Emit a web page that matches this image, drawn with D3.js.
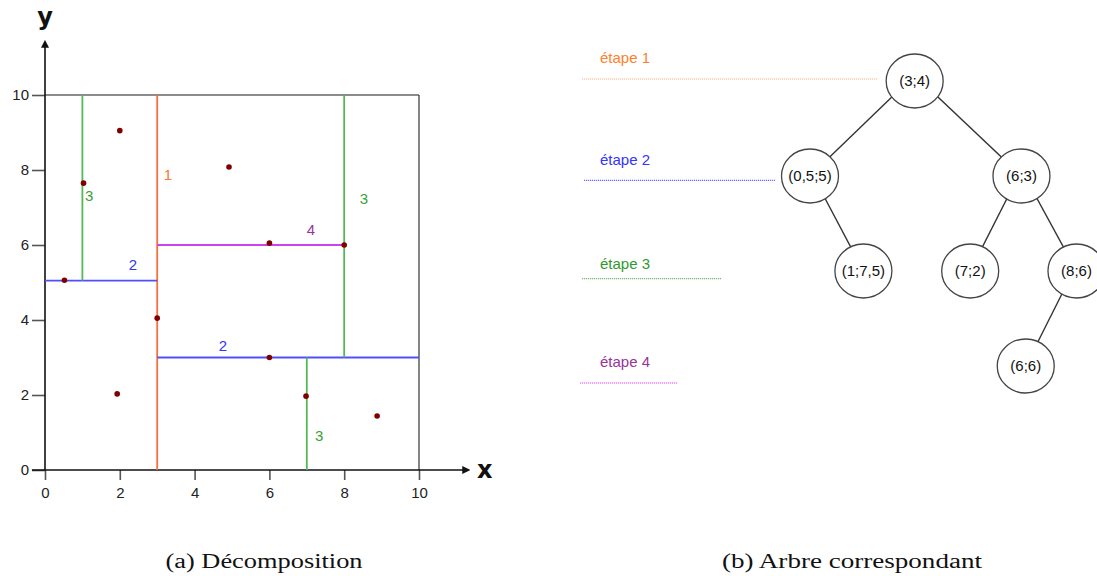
<!DOCTYPE html>
<html>
<head>
<meta charset="utf-8">
<script src="https://cdn.jsdelivr.net/npm/d3@7"></script>
<style>
  body { margin: 0; background: #fff; }
  svg { display: block; }
</style>
</head>
<body>
<svg id="chart" width="1097" height="576"></svg>
<script>
// ---- data ---------------------------------------------------------------
// points of the set being partitioned
const pointsX = [2, 4.92, 1.03, 0.52, 3, 1.93, 6, 8, 6, 6.98, 8.88];
const pointsY = [9.05, 8.08, 7.65, 5.06, 4.05, 2.03, 6.05, 6, 3, 1.97, 1.44];

// splitting segments: stage, orientation, fixed coordinate, span
const splitStage = [1, 2, 2, 3, 3, 3, 4];
const splitDir   = ["v", "h", "h", "v", "v", "v", "h"];
const splitAt    = [3, 5.05, 3, 1, 8, 7, 6];
const splitFrom  = [0, 0, 3, 5.05, 3, 0, 3];
const splitTo    = [10, 3, 10, 10, 10, 3, 8];

// stage numbers written next to the segments (data coordinates)
const tagStage = [1, 2, 2, 3, 3, 3, 4];
const tagX     = [3.29, 2.35, 4.76, 1.18, 8.53, 7.33, 7.11];
const tagY     = [7.87, 5.47, 3.33, 7.33, 7.25, 0.91, 6.40];

const xTicks = [0, 2, 4, 6, 8, 10];
const yTicks = [0, 2, 4, 6, 8, 10];

// tree: label, depth, column, parent index
const nodeLabel  = ["(3;4)", "(0,5;5)", "(6;3)", "(1;7,5)", "(7;2)", "(8;6)", "(6;6)"];
const nodeDepth  = [0, 1, 1, 2, 2, 2, 3];
const nodeCol    = [1.96, 0, 3.96, 1, 3, 4.99, 4.04];
const nodeParent = [null, 0, 0, 1, 2, 2, 5];

const stageNames = ["étape 1", "étape 2", "étape 3", "étape 4"];

const captions = ["(a) Décomposition", "(b) Arbre correspondant"];

// ---- styles ---------------------------------------------------------------
const lineColor  = ["#f4703f", "#4f4fff", "#55b855", "#cc44ee"];
const tagColor   = ["#f47a36", "#3535f0", "#3a9f3a", "#993399"];
const guideColor = ["#f8b48a", "#6a6aff", "#7ab87a", "#dd44ee"];
const textColor  = ["#ff7f2a", "#3333ff", "#2e9a2e", "#993399"];

const svg = d3.select("#chart");

// ---- left panel: decomposition of the plane ---------------------------------
const x = d3.scaleLinear().domain([0, 10]).range([45, 419]);
const y = d3.scaleLinear().domain([0, 10]).range([470, 95]);

const left = svg.append("g");

// frame at x = 10 and y = 10
left.append("line")
  .attr("x1", x(0)).attr("x2", x(10)).attr("y1", y(10)).attr("y2", y(10))
  .attr("stroke", "#666").attr("stroke-width", 1.6);
left.append("line")
  .attr("x1", x(10)).attr("x2", x(10)).attr("y1", y(10)).attr("y2", y(0))
  .attr("stroke", "#333").attr("stroke-width", 1.2);

// axes
const xAxis = d3.axisBottom(x).tickValues(xTicks).tickSize(10).tickPadding(7).tickFormat(d3.format("d"));
const yAxis = d3.axisLeft(y).tickValues(yTicks).tickSize(13).tickPadding(3).tickFormat(d3.format("d"));

const gx = left.append("g").attr("transform", `translate(0,${y(0)})`).call(xAxis);
const gy = left.append("g").attr("transform", `translate(${x(0)},0)`).call(yAxis);
[gx, gy].forEach(g => {
  g.select(".domain").remove();
  g.selectAll(".tick line").attr("stroke", "#555").attr("stroke-width", 1.6);
  g.selectAll(".tick text").attr("font-family", "Liberation Sans, Arial, sans-serif")
    .attr("font-size", 15).attr("fill", "#222");
});

// axis lines with arrow heads
svg.append("defs").append("marker")
  .attr("id", "arrow").attr("viewBox", "0 0 10 10").attr("refX", 2).attr("refY", 5)
  .attr("markerWidth", 8).attr("markerHeight", 8).attr("markerUnits", "userSpaceOnUse")
  .attr("orient", "auto")
  .append("path").attr("d", "M0,0 L10,5 L0,10 Z").attr("fill", "#111");

left.append("line")
  .attr("x1", x(-0.35)).attr("x2", x(11.2)).attr("y1", y(0)).attr("y2", y(0))
  .attr("stroke", "#111").attr("stroke-width", 1.6).attr("marker-end", "url(#arrow)");
left.append("line")
  .attr("x1", x(0)).attr("x2", x(0)).attr("y1", y(0)).attr("y2", y(11.3))
  .attr("stroke", "#111").attr("stroke-width", 1.6).attr("marker-end", "url(#arrow)");

left.append("text").text("x")
  .attr("x", x(11.55)).attr("y", y(0)).attr("dy", "0.33em")
  .attr("font-family", "DejaVu Sans, sans-serif").attr("font-size", 24)
  .attr("font-weight", "bold").attr("fill", "#111");
left.append("text").text("y")
  .attr("x", x(0)).attr("y", y(11.86)).attr("text-anchor", "middle")
  .attr("font-family", "DejaVu Sans, sans-serif").attr("font-size", 24)
  .attr("font-weight", "bold").attr("fill", "#111");

// splitting segments
left.selectAll("line.split")
  .data(d3.range(splitStage.length))
  .join("line")
  .attr("class", "split")
  .attr("x1", i => splitDir[i] === "v" ? x(splitAt[i]) : x(splitFrom[i]))
  .attr("x2", i => splitDir[i] === "v" ? x(splitAt[i]) : x(splitTo[i]))
  .attr("y1", i => splitDir[i] === "v" ? y(splitFrom[i]) : y(splitAt[i]))
  .attr("y2", i => splitDir[i] === "v" ? y(splitTo[i]) : y(splitAt[i]))
  .attr("stroke", i => lineColor[splitStage[i] - 1])
  .attr("stroke-width", 1.8);

// stage numbers
left.selectAll("text.tag")
  .data(d3.range(tagStage.length))
  .join("text")
  .attr("class", "tag")
  .attr("x", i => x(tagX[i])).attr("y", i => y(tagY[i]))
  .attr("text-anchor", "middle").attr("dy", "0.36em")
  .attr("font-family", "Liberation Sans, Arial, sans-serif").attr("font-size", 15)
  .attr("fill", i => tagColor[tagStage[i] - 1])
  .text(i => tagStage[i]);

// points
left.selectAll("circle.pt")
  .data(d3.range(pointsX.length))
  .join("circle")
  .attr("class", "pt")
  .attr("cx", i => x(pointsX[i])).attr("cy", i => y(pointsY[i]))
  .attr("r", 2.8).attr("fill", "#800000");

// ---- right panel: corresponding tree --------------------------------------
const tx = d3.scaleLinear().domain([0, 5]).range([810, 1077]);
const ty = d3.scaleLinear().domain([0, 3]).range([81, 366]);
const rx = 28.5, ry = 27;

const right = svg.append("g");

// stage guide lines and their names
const guideY = d3.scaleLinear().domain([0, 3]).range([79, 383]);
const guideStart = [582, 584, 582, 580];
const guideEnd   = [877, 775, 722, 678];

right.selectAll("line.guide")
  .data(d3.range(stageNames.length))
  .join("line")
  .attr("class", "guide")
  .attr("x1", i => guideStart[i]).attr("x2", i => guideEnd[i])
  .attr("y1", i => guideY(i) + (i === 2 ? -3 : 0)).attr("y2", i => guideY(i) + (i === 2 ? -3 : 0))
  .attr("stroke", i => guideColor[i]).attr("stroke-width", 1.2)
  .attr("stroke-dasharray", "1.2,0.8");

right.selectAll("text.stage")
  .data(d3.range(stageNames.length))
  .join("text")
  .attr("class", "stage")
  .attr("x", 600).attr("y", i => guideY(i) - 21 + (i === 2 ? 3 : 0))
  .attr("dy", "0.35em")
  .attr("font-family", "Liberation Sans, Arial, sans-serif").attr("font-size", 15)
  .attr("fill", i => textColor[i])
  .text(i => stageNames[i]);

// edges, drawn first so the node ellipses cover their ends
right.selectAll("line.edge")
  .data(d3.range(nodeLabel.length).filter(i => nodeParent[i] !== null))
  .join("line")
  .attr("class", "edge")
  .attr("x1", i => tx(nodeCol[nodeParent[i]])).attr("y1", i => ty(nodeDepth[nodeParent[i]]) - 6)
  .attr("x2", i => tx(nodeCol[i])).attr("y2", i => ty(nodeDepth[i]))
  .attr("stroke", "#333").attr("stroke-width", 1.4);

const node = right.selectAll("g.node")
  .data(d3.range(nodeLabel.length))
  .join("g")
  .attr("class", "node")
  .attr("transform", i => `translate(${tx(nodeCol[i])},${ty(nodeDepth[i])})`);

node.append("ellipse")
  .attr("rx", rx).attr("ry", ry)
  .attr("fill", "#fff").attr("stroke", "#444").attr("stroke-width", 1.3);

node.append("text")
  .attr("text-anchor", "middle").attr("dy", "0.35em")
  .attr("font-family", "Liberation Sans, Arial, sans-serif").attr("font-size", 15)
  .attr("fill", "#111")
  .text(i => nodeLabel[i]);

// ---- captions ---------------------------------------------------------------
const capX = [264, 852];
const capW = [197, 260];
svg.selectAll("text.caption")
  .data(d3.range(captions.length))
  .join("text")
  .attr("class", "caption")
  .attr("x", i => capX[i]).attr("y", 568)
  .attr("text-anchor", "middle")
  .attr("font-family", "Liberation Serif, Times New Roman, serif").attr("font-size", 20)
  .attr("textLength", i => capW[i]).attr("lengthAdjust", "spacingAndGlyphs")
  .attr("fill", "#111")
  .text(i => captions[i]);
</script>
</body>
</html>
